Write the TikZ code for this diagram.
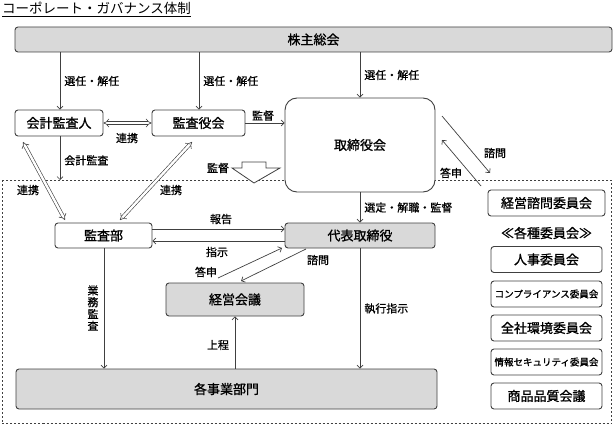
\documentclass[tikz,border=0pt]{standalone}
\usepackage{fontspec}
\setmainfont{Noto Sans CJK JP}
\newfontfamily\jpbox{Noto Sans CJK JP}[FakeBold=1.2]
\newfontfamily\jplbl{Noto Sans CJK JP}[FakeBold=0.8]
\usetikzlibrary{arrows.meta,calc}
\definecolor{boxgray}{HTML}{D9D9D9}
\definecolor{linec}{HTML}{404040}
\begin{document}
\begin{tikzpicture}[x=1pt,y=-1pt,
  box/.style={draw=linec, line width=0.9pt, rounded corners=3pt, inner sep=0pt, font=\jpbox\fontsize{13}{15}\selectfont, text=black},
  gbox/.style={box, fill=boxgray},
  wbox/.style={box, fill=white},
  lbl/.style={font=\jplbl\fontsize{11}{13}\selectfont, inner sep=1pt, text=black},
  arr/.style={draw=linec, line width=0.7pt, -{Straight Barb[length=3pt,width=6pt]}},
  dbl/.style={draw=linec, line width=0.6pt, double=white, double distance=2.4pt, {Implies}-{Implies}},
]
\useasboundingbox (0,0) rectangle (613,425);
% title
\node[anchor=north west, inner sep=0pt, font=\fontsize{13.5}{15}\selectfont] (title) at (2,2) {コーポレート・ガバナンス体制};
\draw[line width=0.8pt] ([yshift=-1pt]title.south west) -- ([yshift=-1pt]title.south east);
% dashed area
\draw[linec, line width=0.8pt, dash pattern=on 2pt off 2pt] (2,180) rectangle (611.5,423.5);
% boxes
\node[gbox, minimum width=597, minimum height=25] (kabu) at (313.5,39.5) {株主総会};
\node[wbox, minimum width=88, minimum height=26] (kaikei) at (59,123) {会計監査人};
\node[wbox, minimum width=93, minimum height=26] (kansayaku) at (198.5,123) {監査役会};
\node[wbox, rounded corners=12pt, minimum width=150, minimum height=94] (tori) at (360,145) {取締役会};
\node[wbox, minimum width=97, minimum height=25] (kansabu) at (103.5,235.5) {監査部};
\node[gbox, minimum width=150, minimum height=25] (daihyo) at (360,235.5) {代表取締役};
\node[gbox, minimum width=138, minimum height=33] (keiei) at (235,299.5) {経営会議};
\node[gbox, minimum width=421, minimum height=40] (jigyo) at (226.5,389) {各事業部門};
\node[wbox, minimum width=117, minimum height=26] (shimon) at (546.5,203) {経営諮問委員会};
\node[lbl, font=\jpbox\fontsize{13}{15}\selectfont] (kakushu) at (546.5,233) {≪各種委員会≫};
\node[wbox, minimum width=111, minimum height=26] (jinji) at (546.5,259.5) {人事委員会};
\node[wbox, minimum width=111, minimum height=26, font=\jpbox\fontsize{9.5}{11}\selectfont] (compl) at (546.5,294) {コンプライアンス委員会};
\node[wbox, minimum width=111, minimum height=26] (kankyo) at (546.5,328) {全社環境委員会};
\node[wbox, minimum width=111, minimum height=26, font=\jpbox\fontsize{9.5}{11}\selectfont] (joho) at (546.5,362) {情報セキュリティ委員会};
\node[wbox, minimum width=111, minimum height=26] (hinshitsu) at (546.5,396) {商品品質会議};
% election arrows
\draw[arr] (kabu.south -| 60,0) -- (kaikei.north -| 60,0) node[lbl, pos=0.5, anchor=west, xshift=3pt] {選任・解任};
\draw[arr] (kabu.south -| 199,0) -- (kansayaku.north -| 199,0) node[lbl, pos=0.5, anchor=west, xshift=3pt] {選任・解任};
\draw[arr] (kabu.south -| tori.north) -- (tori.north) node[lbl, pos=0.5, anchor=west, xshift=3pt] {選任・解任};
% top row links
\draw[dbl] (kaikei.east) -- (kansayaku.west);
\node[lbl] at (127,138) {連携};
\draw[arr] (kansayaku.east) -- (tori.west |- kansayaku.east) node[lbl, pos=0.45, above, yshift=1pt] {監督};
\coordinate (kaend) at (60,180);
\draw[arr] (kaikei.south -| 60,0) -- (kaend) node[lbl, pos=0.55, anchor=west, xshift=3pt] {会計監査};
% block arrow
\draw[linec, line width=0.8pt, fill=white] (242,162) -- (266,162) -- (266,168) -- (280,168) -- (254,183) -- (232,168) -- (242,168) -- cycle;
\node[lbl] at (218,168) {監督};
% diagonal double arrows
\coordinate (d1a) at (23,142); \coordinate (d1b) at (65,220);
\coordinate (d2a) at (192,142); \coordinate (d2b) at (120,220);
\draw[dbl] (d1a) -- (d1b);
\draw[dbl] (d2a) -- (d2b);
\node[lbl] at (28,190) {連携};
\node[lbl] at (171,190) {連携};
% report / instruction
\draw[arr] (kansabu.east |- 0,229) -- (daihyo.west |- 0,229);
\node[lbl] at (221,219) {報告};
\draw[arr] (daihyo.west |- 0,241) -- (kansabu.east |- 0,241);
\node[lbl] at (217,252) {指示};
% board to rep
\draw[arr] (tori.south) -- (daihyo.north) node[lbl, pos=0.5, anchor=west, xshift=3pt] {選定・解職・監督};
% keiei links
\coordinate (tosin1) at (218,278); \coordinate (tosin2) at (282,248);
\draw[arr] (tosin1) -- (tosin2);
\node[lbl] at (206,272) {答申};
\coordinate (shim1) at (306,249); \coordinate (shim2) at (241,281);
\draw[arr] (shim1) -- (shim2);
\node[lbl] at (318,260) {諮問};
% execution
\draw[arr] (daihyo.south) -- (jigyo.north -| daihyo.south) node[lbl, pos=0.5, anchor=west, xshift=3pt] {執行指示};
\draw[arr] (kansabu.south -| 104,0) -- (jigyo.north -| 104,0);
\node[lbl, align=center, font=\jplbl\fontsize{11}{11.8}\selectfont] at (93,308) {業\\務\\監\\査};
\draw[arr] (jigyo.north -| keiei.south) -- (keiei.south);
\node[lbl] at (218,345) {上程};
% advisory committee
\coordinate (s1) at (442,116); \coordinate (s2) at (490,173);
\draw[arr] (s1) -- (s2);
\node[lbl] at (495,153) {諮問};
\coordinate (t1) at (481,186); \coordinate (t2) at (442,140);
\draw[arr] (t1) -- (t2);
\node[lbl] at (451,173) {答申};
\end{tikzpicture}
\end{document}
